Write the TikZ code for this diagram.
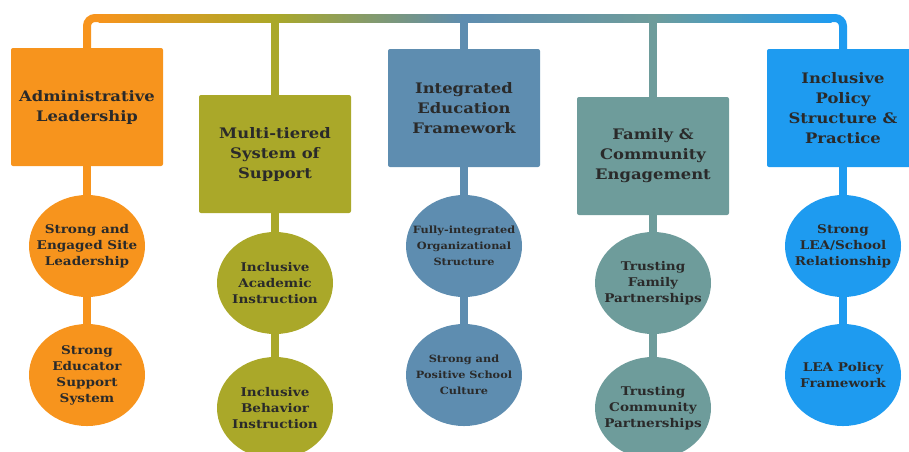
\documentclass[tikz,border=0pt]{standalone}
\usepackage{fontspec}
\setmainfont{DejaVu Serif}[FakeStretch=1.13]
\usepackage{tikz}
\usetikzlibrary{shapes.geometric}
\definecolor{admin}{HTML}{F7941D}
\definecolor{mtss}{HTML}{AAA829}
\definecolor{ief}{HTML}{5E8DB0}
\definecolor{fce}{HTML}{6E9C9B}
\definecolor{ipsp}{HTML}{1E9BF0}
\definecolor{ink}{HTML}{2A2A2A}
\tikzstyle{pillar}=[rectangle, rounded corners=2pt, minimum width=152pt, minimum height=118pt, inner sep=2pt, align=center, text=ink, font=\bfseries\fontsize{14.5}{20}\selectfont]
\tikzstyle{goal}=[ellipse, minimum width=116pt, minimum height=102pt, inner sep=0pt]
\tikzstyle{goaltext}=[inner sep=0pt, align=center, text=ink, font=\bfseries\fontsize{12}{16}\selectfont]
\tikzstyle{smallgoaltext}=[goaltext, font=\bfseries\fontsize{10}{16}\selectfont]
\tikzstyle{link}=[-, line width=8pt]

\begin{document}
\begin{tikzpicture}[x=1pt,y=-1pt]
			\useasboundingbox (0,0) rectangle (909,451);
			\clip (0,0) rectangle (909,451);

			%The bar stops
			\coordinate (b1) at (87,18);
			\coordinate (b2) at (275,18);
			\coordinate (b3) at (464,18);
			\coordinate (b4) at (653,18);
			\coordinate (b5) at (843,18);

			%The pillars
			\node[pillar, fill=admin] (admin) at (87,107) {Administrative\\Leadership};
			\node[pillar, fill=mtss] (mtss) at (275,154) {Multi-tiered\\System of\\Support};
			\node[pillar, fill=ief] (ief) at (464,108) {Integrated\\Education\\Framework};
			\node[pillar, fill=fce] (fce) at (653,156) {Family \&\\Community\\Engagement};
			\node[pillar, fill=ipsp] (ipsp) at (843,108) {Inclusive\\Policy\\Structure \&\\Practice};

			%The goals
			\node[goal, fill=admin, label={[goaltext]center:Strong and\\Engaged Site\\Leadership}] (admin-1) at (87,246) {};
			\node[goal, fill=admin, label={[goaltext]center:Strong\\Educator\\Support\\System}] (admin-2) at (87,375) {};
			\node[goal, fill=mtss, label={[goaltext]center:Inclusive\\Academic\\Instruction}] (mtss-1) at (275,283) {};
			\node[goal, fill=mtss, label={[goaltext]center:Inclusive\\Behavior\\Instruction}] (mtss-2) at (275,408) {};
			\node[goal, fill=ief, label={[smallgoaltext]center:Fully-integrated\\Organizational\\Structure}] (ief-1) at (464,246) {};
			\node[goal, fill=ief, label={[smallgoaltext]center:Strong and\\Positive School\\Culture}] (ief-2) at (464,375) {};
			\node[goal, fill=fce, label={[goaltext]center:Trusting\\Family\\Partnerships}] (fce-1) at (653,283) {};
			\node[goal, fill=fce, label={[goaltext]center:Trusting\\Community\\Partnerships}] (fce-2) at (653,408) {};
			\node[goal, fill=ipsp, label={[goaltext]center:Strong\\LEA/School\\Relationship}] (ipsp-1) at (843,246) {};
			\node[goal, fill=ipsp, label={[goaltext]center:LEA Policy\\Framework}] (ipsp-2) at (843,375) {};

			%The top bar
			\draw[link, admin, rounded corners=8pt] (admin.north) |- ([xshift=12pt]b1);
			\shade[left color=admin, right color=mtss] ([xshift=11.5pt,yshift=-4pt]b1) rectangle ([xshift=0.5pt,yshift=4pt]b2);
			\shade[left color=mtss, right color=ief] ([yshift=-4pt]b2) rectangle ([xshift=0.5pt,yshift=4pt]b3);
			\shade[left color=ief, right color=fce] ([yshift=-4pt]b3) rectangle ([xshift=0.5pt,yshift=4pt]b4);
			\shade[left color=fce, right color=ipsp] ([yshift=-4pt]b4) rectangle ([xshift=-11.5pt,yshift=4pt]b5);
			\draw[link, ipsp, rounded corners=8pt] ([xshift=-12pt]b5) -| (ipsp.north);
			\draw[link, mtss] (b2) -- (mtss.north);
			\draw[link, ief] (b3) -- (ief.north);
			\draw[link, fce] (b4) -- (fce.north);

			%The links down each pillar
			\foreach \p in {admin,mtss,ief,fce,ipsp}{
				\draw[link, \p] (\p.south) -- (\p-1.north);
				\draw[link, \p] (\p-1.south) -- (\p-2.north);
			}
		\end{tikzpicture}
\end{document}
